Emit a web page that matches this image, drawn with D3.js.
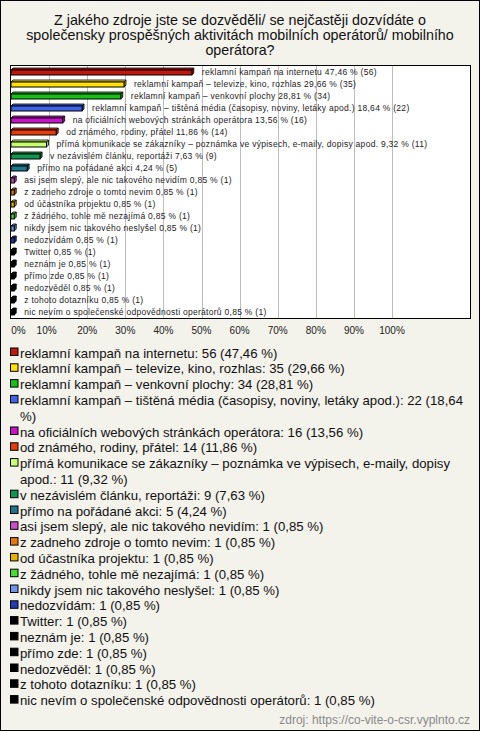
<!DOCTYPE html>
<html><head><meta charset="utf-8">
<script src="https://cdn.jsdelivr.net/npm/d3@7"></script>
<style>
html,body{margin:0;padding:0;background:#fff;}
svg{display:block;}
</style></head>
<body>
<script>
const titleLines = ["Z jakého zdroje jste se dozvěděli/ se nejčastěji dozvídáte o",
  "společensky prospěšných aktivitách mobilních operátorů/ mobilního",
  "operátora?"];
const categories = [
  "reklamní kampaň na internetu",
  "reklamní kampaň – televize, kino, rozhlas",
  "reklamní kampaň – venkovní plochy",
  "reklamní kampaň – tištěná média (časopisy, noviny, letáky apod.)",
  "na oficiálních webových stránkách operátora",
  "od známého, rodiny, přátel",
  "přímá komunikace se zákazníky – poznámka ve výpisech, e-maily, dopisy apod.",
  "v nezávislém článku, reportáži",
  "přímo na pořádané akci",
  "asi jsem slepý, ale nic takového nevidím",
  "z zadneho zdroje o tomto nevim",
  "od účastníka projektu",
  "z žádného, tohle mě nezajímá",
  "nikdy jsem nic takového neslyšel",
  "nedozvídám",
  "Twitter",
  "neznám je",
  "přímo zde",
  "nedozvěděl",
  "z tohoto dotazníku",
  "nic nevím o společenské odpovědnosti operátorů"
];
const counts = [56,35,34,22,16,14,11,9,5,1,1,1,1,1,1,1,1,1,1,1,1];
const percents = [47.46,29.66,28.81,18.64,13.56,11.86,9.32,7.63,4.24,0.85,0.85,0.85,0.85,0.85,0.85,0.85,0.85,0.85,0.85,0.85,0.85];
const colors = ["#c0180c","#ffe000","#16c016","#3c64e8","#c814c8","#e63c0a","#c8ff6e","#0f9650","#1e788c",
  "#c850c8","#e6780a","#e6b400","#46dc32","#6e96e6","#1e3cb4",
  "#000","#000","#000","#000","#000","#000"];
const tickValues = [0,10,20,30,40,50,60,70,80,90,100];
const tickLabels = ["0%","10%","20%","30%","40%","50%","60%","70%","80%","90%","100%"];
const sourceText = "zdroj: https://co-vite-o-csr.vyplnto.cz";

const W = 480, H = 731;
const fmt = v => v.toFixed(2).replace(".", ",");
const svg = d3.select("body").append("svg").attr("width", W).attr("height", H);
svg.append("rect").attr("x",0.5).attr("y",0.5).attr("width",W-1).attr("height",H-1)
  .attr("fill","#f3f2eb").attr("stroke","#000").attr("stroke-width",1);

// title
svg.append("g").selectAll("text").data(titleLines).join("text")
  .attr("x", 240).attr("y", (d,i)=>25 + i*15)
  .attr("text-anchor","middle").attr("font-family","Liberation Sans, Arial, sans-serif")
  .attr("font-size","14.3px").attr("fill","#111").text(d=>d);

const plot = {l:10.5, t:65.5, r:470.5, b:318.5};
const x = d3.scaleLinear().domain([0,100]).range([11, 392]);
const y = d3.scaleBand().domain(categories).range([66, 318]);

svg.append("rect").attr("x",plot.l).attr("y",plot.t).attr("width",plot.r-plot.l).attr("height",plot.b-plot.t)
  .attr("fill","#fff");
// gridlines
svg.append("g").selectAll("line").data(tickValues.slice(1)).join("line")
  .attr("x1",d=>Math.round(x(d))+0.5).attr("x2",d=>Math.round(x(d))+0.5)
  .attr("y1",plot.t).attr("y2",plot.b).attr("stroke","#bdbdbd").attr("stroke-width",1);

// bars (3D)
const h = 5, dd = 2;
const bars = svg.append("g").selectAll("g").data(categories).join("g");
bars.each(function(c,i){
  const g = d3.select(this);
  const x0 = x(0), x1 = x(percents[i]);
  const top = y(c) + y.bandwidth()/2 - 2;
  const col = colors[i];
  const darker = d3.color(col).darker(0.6);
  g.append("path").attr("d", `M${x0},${top} L${x0+dd},${top-dd} L${x1+dd},${top-dd} L${x1},${top} Z`)
    .attr("fill", col).attr("stroke","#000").attr("stroke-width",0.8).attr("stroke-linejoin","round");
  g.append("path").attr("d", `M${x1},${top} L${x1+dd},${top-dd} L${x1+dd},${top+h-dd} L${x1},${top+h} Z`)
    .attr("fill", darker).attr("stroke","#000").attr("stroke-width",0.8).attr("stroke-linejoin","round");
  g.append("rect").attr("x",x0).attr("y",top).attr("width",x1-x0).attr("height",h)
    .attr("fill", col).attr("stroke","#000").attr("stroke-width",1);
  g.append("text").attr("x", x1 + 10).attr("y", y(c)+y.bandwidth()/2 + 3)
    .attr("font-family","Liberation Sans, Arial, sans-serif").attr("font-size","8.5px")
    .attr("letter-spacing","0.28px").attr("fill","#222")
    .text(`${c} ${fmt(percents[i])} % (${counts[i]})`);
});

svg.append("rect").attr("x",plot.l).attr("y",plot.t).attr("width",plot.r-plot.l).attr("height",plot.b-plot.t)
  .attr("fill","none").attr("stroke","#000").attr("stroke-width",1);

// axis labels
svg.append("g").selectAll("text").data(tickValues).join("text")
  .attr("x",(d,i)=> i===0 ? x(d)+7.5 : x(d)-(i===1?2.5:0)).attr("y",334)
  .attr("text-anchor","middle").attr("font-family","Liberation Sans, Arial, sans-serif")
  .attr("font-size","10px").attr("fill","#222").text((d,i)=>tickLabels[i]);

// legend with wrapping
const legend = svg.append("g");
const lineH = 15.8, maxW = 470 - 20;
let ly = 357.5;
const ctx = document.createElement("canvas").getContext("2d");
ctx.font = "13.2px 'Liberation Sans'";
categories.forEach((c,i)=>{
  const txt = `${c}: ${counts[i]} (${fmt(percents[i])} %)`;
  const words = txt.split(" ");
  const lines = []; let cur = "";
  words.forEach(w=>{
    const test = cur ? cur + " " + w : w;
    if (ctx.measureText(test).width > maxW && cur) { lines.push(cur); cur = w; } else cur = test;
  });
  lines.push(cur);
  legend.append("rect").attr("x",10.5).attr("y",ly-9.5).attr("width",7.5).attr("height",7.5)
    .attr("fill",colors[i]).attr("stroke","#000").attr("stroke-width",1);
  lines.forEach((ln,k)=>{
    legend.append("text").attr("x",20).attr("y",ly + k*lineH)
      .attr("font-family","Liberation Sans, Arial, sans-serif").attr("font-size","13.2px").attr("fill","#111")
      .text(ln);
  });
  ly += lines.length*lineH;
});

svg.append("text").attr("x",470).attr("y",724).attr("text-anchor","end")
  .attr("font-family","Liberation Sans, Arial, sans-serif").attr("font-size","12px").attr("fill","#8a8a8a")
  .text(sourceText);
</script>
</body></html>
